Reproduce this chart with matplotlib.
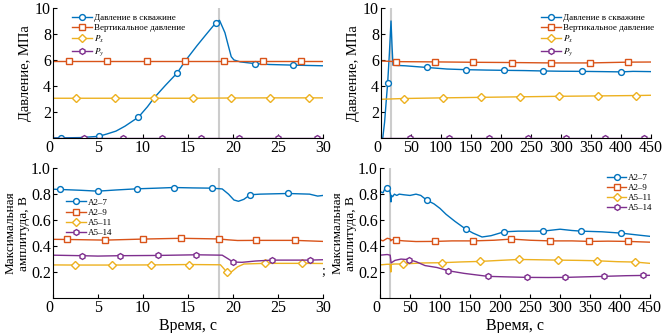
import matplotlib
matplotlib.use('Agg')
import matplotlib.pyplot as plt
import numpy as np

plt.rcParams['font.family'] = ['Liberation Serif', 'DejaVu Serif']
plt.rcParams['mathtext.fontset'] = 'stix'

C_BLUE = '#0072BD'
C_RED = '#D95319'
C_YEL = '#EDB120'
C_PUR = '#7E2F8E'

# ---------- давление, 0-30 с ----------
t_well_a = [0, 0.9, 3, 5.1, 6, 7, 8, 9.5, 10.5, 11.2, 12.5, 13.8, 14.7, 16, 17,
            18.1, 18.5, 19.1, 19.4, 19.8, 20.1, 20.8, 22.4, 24, 26.7, 28, 30]
p_well_a = [0, 0, 0.02, 0.12, 0.3, 0.52, 0.9, 1.6, 2.4, 3.05, 4.05, 5.0, 5.93, 7.1, 7.95,
            8.87, 9.05, 8.1, 7.3, 6.25, 6.0, 5.85, 5.72, 5.65, 5.6, 5.58, 5.55]
mk_well_a = [0.9, 5.1, 9.5, 13.8, 18.1, 22.4, 26.7]

t_vert_a = [0, 1.8, 6.0, 10.4, 14.7, 19.0, 23.3, 27.6, 30]
p_vert_a = [5.93, 5.93, 5.93, 5.93, 5.93, 5.93, 5.93, 5.93, 5.93]

t_px_a = [0, 2.6, 6.9, 11.2, 15.5, 19.8, 24.1, 28.4, 30]
p_px_a = [3.05, 3.05, 3.05, 3.05, 3.05, 3.07, 3.08, 3.08, 3.08]

t_py_a = [0, 3.5, 7.8, 12.1, 16.4, 20.7, 25.0, 29.3, 30]
p_py_a = [0, 0, 0, 0, 0, 0, 0, 0, 0]

# ---------- давление, 0-450 с ----------
t_well_b = [0, 3, 6, 9, 11.1, 14, 16.7, 18.5, 20, 25, 40, 76.7, 110, 141.7, 175, 205.5,
            240, 270, 300, 334.5, 370, 399.5, 420, 450]
p_well_b = [0, 0, 1.2, 3.0, 4.2, 6.5, 9.0, 7.0, 5.6, 5.58, 5.55, 5.42, 5.3, 5.25, 5.22, 5.2,
            5.18, 5.15, 5.13, 5.12, 5.1, 5.08, 5.12, 5.1]
mk_well_b = [11.1, 76.7, 141.7, 205.5, 270, 334.5, 399.5]

t_vert_b = [0, 25, 90, 154, 218, 283, 348, 412, 450]
p_vert_b = [5.92, 5.87, 5.85, 5.82, 5.8, 5.77, 5.77, 5.83, 5.84]

t_px_b = [0, 37.8, 102.8, 166.7, 231, 296, 361, 425.5, 450]
p_px_b = [2.97, 3.03, 3.08, 3.12, 3.16, 3.2, 3.23, 3.26, 3.28]

t_py_b = [0, 48.9, 113.9, 179.5, 244.5, 308.9, 373.3, 437.8, 450]
p_py_b = [0, 0, 0, 0, 0, 0, 0, 0, 0]

# ---------- амплитуда, 0-30 с ----------
t_a27_a = [0, 0.8, 3, 5.0, 7, 9.3, 11.5, 13.4, 15.5, 17.7, 18.8, 19.5, 20.1, 20.6, 21.2,
           21.9, 23, 26.1, 28.5, 29.4, 30]
a27_a = [0.838, 0.836, 0.83, 0.823, 0.832, 0.841, 0.846, 0.851, 0.848, 0.846, 0.84, 0.80,
         0.755, 0.745, 0.76, 0.795, 0.80, 0.805, 0.80, 0.785, 0.79]
mk_a27_a = [0.8, 5.0, 9.3, 13.4, 17.7, 21.9, 26.1]

t_a29_a = [0, 1.6, 5.8, 10.0, 14.2, 18.4, 19.5, 20.5, 22.6, 26.9, 30]
a29_a = [0.452, 0.451, 0.446, 0.454, 0.46, 0.455, 0.448, 0.443, 0.444, 0.444, 0.436]
mk_a29_a = [1.6, 5.8, 10.0, 14.2, 18.4, 22.6, 26.9]

t_a511_a = [0, 2.4, 6.6, 10.9, 15.1, 18.6, 19.0, 19.3, 19.8, 20.5, 21.2, 23.5, 27.7, 30]
a511_a = [0.255, 0.254, 0.254, 0.255, 0.258, 0.256, 0.225, 0.2, 0.2, 0.24, 0.262, 0.267,
          0.267, 0.266]
mk_a511_a = [2.4, 6.6, 10.9, 15.1, 19.3, 23.5, 27.7]

t_a514_a = [0, 3.2, 5, 7.4, 11.7, 15.9, 18.8, 19.5, 20.0, 21, 22.5, 24.3, 28.6, 30]
a514_a = [0.33, 0.326, 0.323, 0.326, 0.328, 0.333, 0.33, 0.30, 0.277, 0.275, 0.285, 0.292,
          0.292, 0.295]
mk_a514_a = [3.2, 7.4, 11.7, 15.9, 20.0, 24.3, 28.6]

# ---------- амплитуда, 0-450 с ----------
t_a27_b = [0, 5, 8, 12.3, 16, 17.5, 18.2, 19, 21, 24, 28, 32, 40, 50, 60, 68, 77.8, 90, 100,
           110, 125, 142.8, 155, 170, 185, 206.7, 230, 250, 271.2, 300, 320, 335.7, 370,
           401.2, 430, 450]
a27_b = [0.82, 0.81, 0.84, 0.85, 0.83, 0.80, 0.74, 0.79, 0.78, 0.80, 0.79, 0.80, 0.795,
         0.79, 0.80, 0.79, 0.754, 0.725, 0.69, 0.645, 0.59, 0.531, 0.50, 0.47, 0.48, 0.51,
         0.515, 0.515, 0.515, 0.53, 0.52, 0.515, 0.51, 0.50, 0.485, 0.475]
mk_a27_b = [12.3, 77.8, 142.8, 206.7, 271.2, 335.7, 401.2]

t_a29_b = [0, 5, 12, 17, 18, 20, 26, 40, 60, 91, 120, 155, 190, 219, 250, 284, 320, 349,
           380, 413.3, 450]
a29_b = [0.45, 0.44, 0.46, 0.455, 0.44, 0.45, 0.446, 0.44, 0.435, 0.436, 0.44, 0.44, 0.445,
         0.454, 0.445, 0.44, 0.44, 0.436, 0.438, 0.436, 0.43]
mk_a29_b = [26, 91, 155, 219, 284, 349, 413.3]

t_a511_b = [0, 12, 17, 18, 19, 25, 37.8, 70, 102.8, 135, 166.7, 200, 231, 260, 296, 330,
            361, 395, 425.5, 450]
a511_b = [0.255, 0.26, 0.26, 0.2, 0.26, 0.262, 0.262, 0.27, 0.272, 0.278, 0.282, 0.29,
          0.297, 0.295, 0.292, 0.29, 0.287, 0.28, 0.277, 0.267]
mk_a511_b = [37.8, 102.8, 166.7, 231, 296, 361, 425.5]

t_a514_b = [0, 12, 17, 18.5, 25, 35, 48.9, 60, 75, 95, 113.9, 140, 179.5, 210, 244.5, 280,
            308.9, 340, 373.3, 410, 437.8, 450]
a514_b = [0.33, 0.335, 0.33, 0.27, 0.29, 0.30, 0.295, 0.28, 0.25, 0.235, 0.21, 0.19, 0.167,
          0.163, 0.159, 0.158, 0.159, 0.163, 0.167, 0.172, 0.174, 0.175]
mk_a514_b = [48.9, 113.9, 179.5, 244.5, 308.9, 373.3, 437.8]

p_labels = ['Давление в скважине', 'Вертикальное давление', '$P_x$', '$P_y$']
a_labels = ['A2–7', 'A2–9', 'A5–11', 'A5–14']


def marks(t, mk=None):
    # индексы точек, в которых стоят маркеры
    if mk is None:
        return list(range(1, len(t) - 1))
    return [t.index(m) for m in mk]


def series(ax, t, y, color, marker, label, mk=None):
    ax.plot(t, y, color=color, lw=1.0, marker=marker, markevery=marks(t, mk),
            markersize=4.2, markerfacecolor='white', markeredgecolor=color,
            markeredgewidth=1.0, label=label)


def style(ax, xmax, xstep, yticks, ylim):
    ax.set_xlim(0, xmax)
    ax.set_ylim(*ylim)
    ax.set_xticks(np.arange(0, xmax + 1, xstep))
    ax.set_yticks(yticks)
    ax.spines['top'].set_visible(False)
    ax.spines['right'].set_visible(False)
    ax.tick_params(direction='in', length=3, labelsize=11.5, pad=1.5)
    ax.get_xticklabels()[0].set_ha('right')


def legend(ax, loc, anchor):
    ax.legend(loc=loc, bbox_to_anchor=anchor, frameon=False, fontsize=6.5,
              handlelength=2.2, labelspacing=0.2, handletextpad=0.2, borderaxespad=0.2)


fig = plt.figure(figsize=(6.62, 3.33), dpi=100)
ax1 = fig.add_axes([0.080, 0.586, 0.408, 0.390])
ax2 = fig.add_axes([0.5755, 0.586, 0.408, 0.390])
ax3 = fig.add_axes([0.080, 0.105, 0.408, 0.390])
ax4 = fig.add_axes([0.5740, 0.105, 0.408, 0.390])

# давление 0-30
ax1.axvline(18.4, color='#cccccc', lw=1.5, zorder=0)
series(ax1, t_well_a, p_well_a, C_BLUE, 'o', p_labels[0], mk_well_a)
series(ax1, t_vert_a, p_vert_a, C_RED, 's', p_labels[1])
series(ax1, t_px_a, p_px_a, C_YEL, 'D', p_labels[2])
series(ax1, t_py_a, p_py_a, C_PUR, 'h', p_labels[3])
style(ax1, 30, 5, [2, 4, 6, 8, 10], (0, 10))
ax1.set_ylabel('Давление, МПа', fontsize=10.5, labelpad=2)
legend(ax1, 'upper left', (0.05, 1.0))

# давление 0-450
ax2.axvline(17.0, color='#cccccc', lw=1.5, zorder=0)
series(ax2, t_well_b, p_well_b, C_BLUE, 'o', p_labels[0], mk_well_b)
series(ax2, t_vert_b, p_vert_b, C_RED, 's', p_labels[1])
series(ax2, t_px_b, p_px_b, C_YEL, 'D', p_labels[2])
series(ax2, t_py_b, p_py_b, C_PUR, 'h', p_labels[3])
style(ax2, 450, 50, [2, 4, 6, 8, 10], (0, 10))
ax2.set_ylabel('Давление, МПа', fontsize=10.5, labelpad=2)
legend(ax2, 'upper right', (1.03, 1.0))

# амплитуда 0-30
ax3.axvline(18.4, color='#cccccc', lw=1.5, zorder=0)
series(ax3, t_a27_a, a27_a, C_BLUE, 'o', a_labels[0], mk_a27_a)
series(ax3, t_a29_a, a29_a, C_RED, 's', a_labels[1], mk_a29_a)
series(ax3, t_a511_a, a511_a, C_YEL, 'D', a_labels[2], mk_a511_a)
series(ax3, t_a514_a, a514_a, C_PUR, 'h', a_labels[3], mk_a514_a)
style(ax3, 30, 5, [0.2, 0.4, 0.6, 0.8, 1.0], (0, 1.0))
ax3.set_yticklabels(['0.2', '0.4', '0.6', '0.8', '1.0'])
ax3.set_ylabel('Максимальная\nамплитуда, В', fontsize=9.5, labelpad=1, linespacing=1.1)
ax3.set_xlabel('Время, с', fontsize=11.5, labelpad=1)
legend(ax3, 'upper left', (0.03, 0.81))
fig.text(0.486, 0.175, ';', fontsize=10)

# амплитуда 0-450
ax4.axvline(17.5, color='#cccccc', lw=1.5, zorder=0)
series(ax4, t_a27_b, a27_b, C_BLUE, 'o', a_labels[0], mk_a27_b)
series(ax4, t_a29_b, a29_b, C_RED, 's', a_labels[1], mk_a29_b)
series(ax4, t_a511_b, a511_b, C_YEL, 'D', a_labels[2], mk_a511_b)
series(ax4, t_a514_b, a514_b, C_PUR, 'h', a_labels[3], mk_a514_b)
style(ax4, 450, 50, [0.2, 0.4, 0.6, 0.8, 1.0], (0, 1.0))
ax4.set_yticklabels(['0.2', '0.4', '0.6', '0.8', '1.0'])
ax4.set_ylabel('Максимальная\nамплитуда, В', fontsize=9.5, labelpad=1, linespacing=1.1)
ax4.set_xlabel('Время, с', fontsize=11.5, labelpad=1)
legend(ax4, 'upper right', (1.03, 1.0))

fig.savefig('out.png', dpi=100)
